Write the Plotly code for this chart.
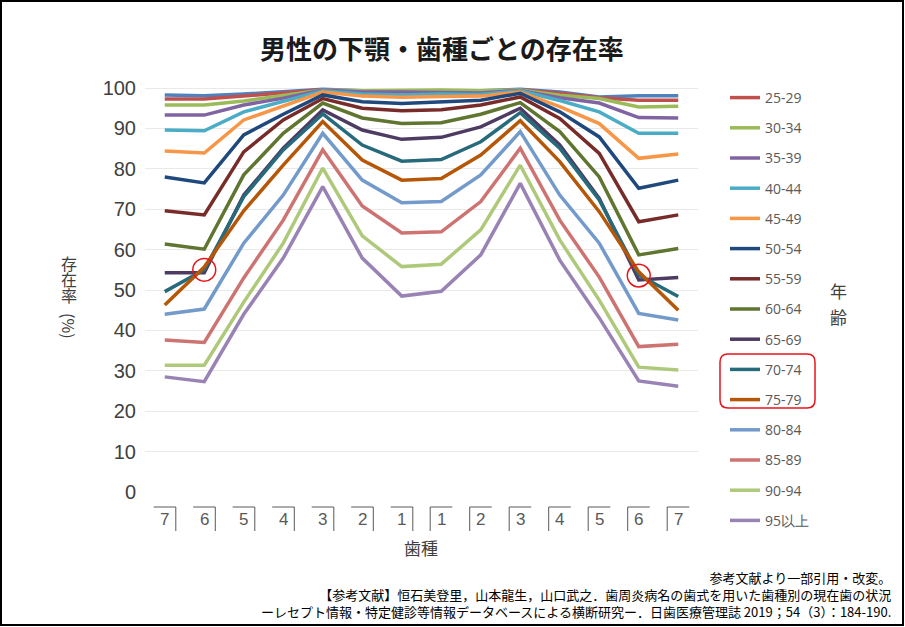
import plotly.graph_objects as go

# lower jaw teeth (right 7 -> 1, left 1 -> 7)
teeth = ["7", "6", "5", "4", "3", "2", "1", "1", "2", "3", "4", "5", "6", "7"]
side = ["R"] * 7 + ["L"] * 7

ages = ["20-24", "25-29", "30-34", "35-39", "40-44", "45-49", "50-54", "55-59",
        "60-64", "65-69", "70-74", "75-79", "80-84", "85-89", "90-94", "95以上"]

a20 = [98.3, 98.1, 98.5, 99.0, 99.7, 99.3, 99.3, 99.3, 99.3, 99.7, 99.0, 97.8, 98.1, 98.1]
a25 = [97.3, 97.3, 98.0, 98.7, 99.6, 99.0, 99.2, 99.2, 99.0, 99.6, 98.7, 97.6, 97.0, 97.0]
a30 = [95.8, 95.8, 96.8, 98.2, 99.5, 99.3, 99.5, 99.5, 99.3, 99.5, 98.2, 97.4, 95.3, 95.5]
a35 = [93.3, 93.3, 95.8, 97.5, 99.5, 99.0, 99.0, 99.0, 98.8, 99.4, 97.6, 96.3, 92.7, 92.6]
a40 = [89.6, 89.4, 94.1, 96.7, 99.3, 98.5, 98.3, 98.5, 98.4, 99.3, 96.9, 94.1, 88.8, 88.8]
a45 = [84.4, 83.9, 92.1, 95.5, 99.0, 98.0, 97.7, 97.9, 98.0, 99.0, 95.4, 91.2, 82.6, 83.7]
a50 = [78.0, 76.5, 88.4, 93.5, 98.3, 96.6, 96.2, 96.6, 97.0, 98.7, 94.1, 87.9, 75.2, 77.2]
a55 = [69.6, 68.6, 84.2, 92.1, 97.4, 95.0, 94.4, 94.6, 95.8, 97.8, 92.5, 83.8, 66.9, 68.6]
a60 = [61.4, 60.1, 78.5, 88.8, 96.3, 92.6, 91.2, 91.4, 93.5, 96.4, 89.2, 78.0, 58.7, 60.3]
a65 = [54.3, 54.3, 73.5, 85.1, 94.6, 89.6, 87.3, 87.8, 90.4, 95.0, 85.9, 72.7, 52.5, 53.1]
a70 = [49.6, 55.0, 73.1, 84.7, 93.6, 85.9, 81.9, 82.3, 86.7, 93.9, 85.1, 72.3, 53.7, 48.4]
a75 = [46.3, 55.7, 69.6, 80.9, 91.7, 82.2, 77.2, 77.6, 83.4, 91.9, 81.8, 69.4, 54.5, 45.0]
a80 = [44.0, 45.3, 61.6, 73.5, 88.8, 77.2, 71.6, 71.9, 78.5, 89.2, 73.5, 61.6, 44.2, 42.6]
a85 = [37.6, 37.0, 53.0, 67.3, 84.7, 70.8, 64.1, 64.4, 71.9, 85.1, 67.3, 53.2, 36.0, 36.6]
a90 = [31.4, 31.4, 47.0, 61.6, 80.2, 63.4, 55.8, 56.4, 64.9, 80.9, 62.4, 47.5, 30.9, 30.2]
a95 = [28.5, 27.3, 44.0, 57.9, 75.6, 57.9, 48.5, 49.7, 58.7, 76.4, 57.4, 43.1, 27.5, 26.2]

series = [a20, a25, a30, a35, a40, a45, a50, a55, a60, a65, a70, a75, a80, a85, a90, a95]
colors = ["#4F81BD", "#C0504D", "#9BBB59", "#8064A2", "#4BACC6", "#F79646",
          "#1F497D", "#772C2A", "#5F7530", "#4D3B62", "#276A7C", "#B65708",
          "#729ACA", "#CD7371", "#AFC97A", "#9983B5"]

W, H = 905, 627
L, R, T, B = 145, 698, 84, 492   # plot area in pixels


def px(x):
    return (x - L) / (R - L)


def py(y):
    return (B - y) / (B - T)


fig = go.Figure()
xs = list(range(len(teeth)))
for name, vals, col in zip(ages, series, colors):
    fig.add_trace(go.Scatter(
        x=xs, y=vals, mode="lines", name=name, legendgroup=name,
        showlegend=(name != "20-24"),
        line=dict(color=col, width=3.5),
    ))

shapes = []
annotations = []

# Zsigmondy style tooth labels
for i, (t, s) in enumerate(zip(teeth, side)):
    annotations.append(dict(x=i, y=py(519), xref="x", yref="paper", text=t,
                            font=dict(size=17, color="#595959", family="Liberation Sans")))
    shapes.append(dict(type="line", xref="x", yref="paper", x0=i - 0.28, x1=i + 0.28,
                       y0=py(507), y1=py(507), line=dict(color="#595959", width=1)))
    vx = i + 0.28 if s == "R" else i - 0.28
    shapes.append(dict(type="line", xref="x", yref="paper", x0=vx, x1=vx,
                       y0=py(507), y1=py(531), line=dict(color="#595959", width=1)))

# red circles at crossings
for i in (1, 12):
    cy = (a65[i] + a70[i] + a75[i]) / 3
    shapes.append(dict(type="circle", xref="x", yref="y", x0=i - 0.29, x1=i + 0.29,
                       y0=cy - 2.8, y1=cy + 2.8, line=dict(color="#E8141B", width=1.5)))

# rounded box around 70-74 / 75-79 legend entries
x0, x1, y0, y1, r = px(720), px(815), py(354), py(408), 8
rx, ry = r / (R - L), r / (B - T)
path = (f"M {x0 + rx},{y0} L {x1 - rx},{y0} Q {x1},{y0} {x1},{y0 - ry} "
        f"L {x1},{y1 + ry} Q {x1},{y1} {x1 - rx},{y1} L {x0 + rx},{y1} "
        f"Q {x0},{y1} {x0},{y1 + ry} L {x0},{y0 - ry} Q {x0},{y0} {x0 + rx},{y0} Z")
shapes.append(dict(type="path", xref="paper", yref="paper", path=path,
                   line=dict(color="#E8141B", width=1.5)))

# outer frame
shapes.append(dict(type="rect", xref="paper", yref="paper", x0=px(1), x1=px(903),
                   y0=py(1), y1=py(625), line=dict(color="#000000", width=2)))

jp = "Noto Sans CJK JP"
foot = ["参考文献より一部引用・改変。",
        "【参考文献】恒石美登里，山本龍生，山口武之．歯周炎病名の歯式を用いた歯種別の現在歯の状況",
        "ーレセプト情報・特定健診等情報データベースによる横断研究ー．日歯医療管理誌 2019；54（3）：184-190."]
annotations += [
    dict(x=px(442), y=py(47), text="<b>男性の下顎・歯種ごとの存在率</b>",
         font=dict(size=26, color="#1a1a1a", family=jp)),
    dict(x=px(421), y=py(547), text="歯種", font=dict(size=17, color="#404040", family=jp)),
    dict(x=px(69), y=py(326), text="(%)", textangle=90, font=dict(size=16, color="#404040", family=jp)),
    dict(x=px(893), y=py(594), text="<br>".join(foot), xanchor="right", align="right",
         font=dict(size=13, color="#000000", family=jp)),
]
# vertical (stacked) axis titles
for k, ch in enumerate("存在率"):
    annotations.append(dict(x=px(69), y=py(263 + 16 * k), text=ch,
                            font=dict(size=16, color="#404040", family=jp)))
for k, ch in enumerate("年齢"):
    annotations.append(dict(x=px(838), y=py(290 + 26 * k), text=ch,
                            font=dict(size=17, color="#404040", family=jp)))
for a in annotations:
    a.setdefault("xref", "paper")
    a.setdefault("yref", "paper")
    a.setdefault("xanchor", "center")
    a.setdefault("yanchor", "middle")
    a.setdefault("showarrow", False)

fig.update_layout(
    width=W, height=H,
    margin=dict(l=L, r=W - R, t=T, b=H - B, autoexpand=False),
    paper_bgcolor="white", plot_bgcolor="white",
    showlegend=True,
    legend=dict(x=px(725), y=py(82), xanchor="left", yanchor="top",
                font=dict(size=14, color="#595959", family="Open Sans"),
                tracegroupgap=9, itemwidth=30, maxheight=600,
                bgcolor="rgba(0,0,0,0)"),
    xaxis=dict(range=[-0.5, 13.5], showgrid=False, zeroline=False,
               showticklabels=False, showline=False),
    yaxis=dict(range=[0, 101], tickvals=list(range(0, 101, 10)),
               gridcolor="#E9E9E9", zeroline=False, showline=False,
               ticks="outside", ticklen=4, tickcolor="rgba(0,0,0,0)",
               tickfont=dict(size=20, color="#404040", family="Liberation Sans")),
    shapes=shapes, annotations=annotations,
)

fig.write_html("out.html", config={"displayModeBar": False},
               post_script="document.body.style.margin='0';")
